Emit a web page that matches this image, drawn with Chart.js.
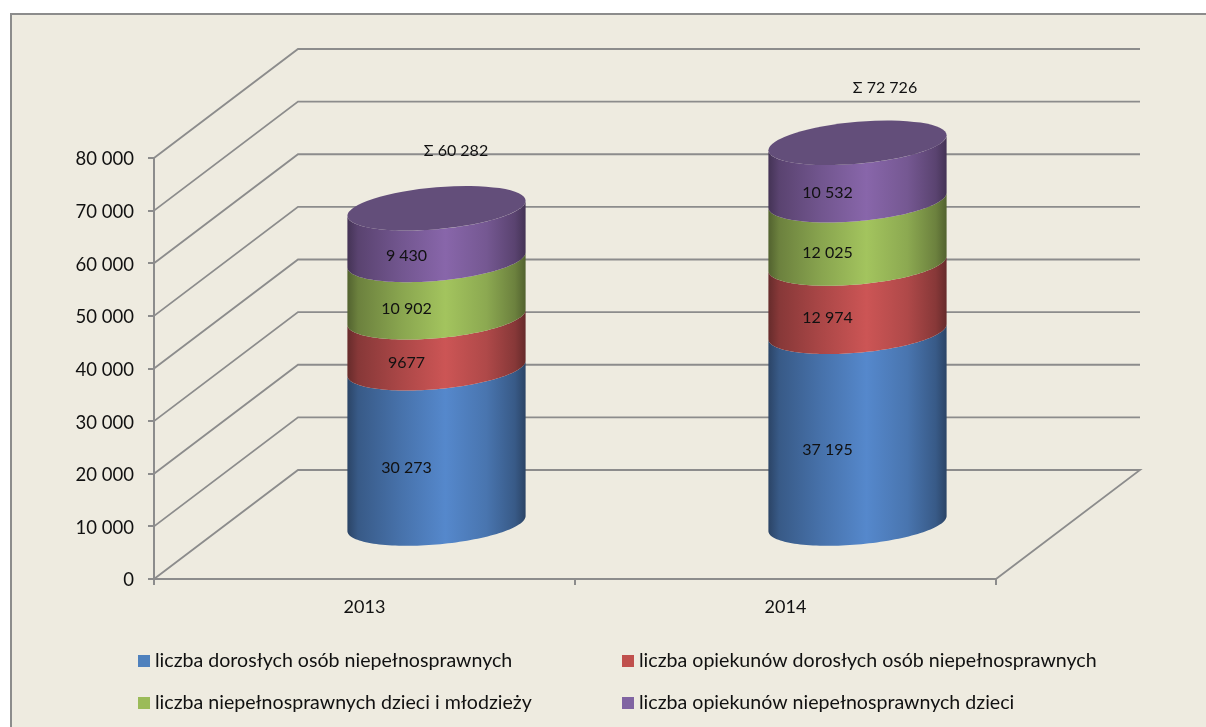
<!DOCTYPE html>
<html lang="pl">
<head>
<meta charset="utf-8">
<title>Wykres</title>
<script src="https://cdn.jsdelivr.net/npm/chart.js@4/dist/chart.umd.min.js"></script>
<style>
html,body{margin:0;padding:0;background:#fff;}
canvas{display:block;}
</style>
</head>
<body>
<canvas id="c" width="1206" height="727"></canvas>
<script>
const categories = ['2013', '2014'];
const adults = [30273, 37195];
const adultCarers = [9677, 12974];
const children = [10902, 12025];
const childCarers = [9430, 10532];
const adultsText = ['30 273', '37 195'];
const adultCarersText = ['9677', '12 974'];
const childrenText = ['10 902', '12 025'];
const childCarersText = ['9 430', '10 532'];
const totalsText = ['Σ 60 282', 'Σ 72 726'];
const yTicksMax = 80000;
const yStep = 10000;

const BG = '#EEEBE0', LINE = '#8C8C8C', INK = '#111111';
const FONT = 'Lato, sans-serif';
const DEPTH_X = 144, DEPTH_Y = 109;
const SLOPE = -15 / 178, MINOR = 21;
const SEAM_DROP = 3;
const LABEL_DX = -30, LABEL_DY = 23.5;
const TOTAL_OFF = [[19.5, -56.5], [27.5, -53.5]];
const LEGEND = [[138, 661], [622, 661], [138, 703], [622, 703]];

function shade(rgb, f) {
  return 'rgb(' + rgb.map(v => Math.round(v * f)).join(',') + ')';
}

function sidePath(ctx, cx, R, yTop, yBase) {
  const N = 72;
  ctx.beginPath();
  for (let i = 0; i <= N; i++) {
    const t = Math.PI - Math.PI * i / N;
    const dx = R * Math.cos(t);
    const px = cx + dx, py = yTop + SLOPE * dx + MINOR * Math.sin(t);
    if (i === 0) ctx.moveTo(px, py); else ctx.lineTo(px, py);
  }
  for (let i = 0; i <= N; i++) {
    const t = Math.PI * i / N;
    const dx = R * Math.cos(t);
    ctx.lineTo(cx + dx, yBase + SLOPE * dx + MINOR * Math.sin(t));
  }
  ctx.closePath();
}

const scene = {
  id: 'scene',
  beforeDraw(chart) {
    const { ctx, width, height } = chart;
    ctx.save();
    ctx.fillStyle = BG;
    ctx.fillRect(11, 14, width, height);
    ctx.strokeStyle = LINE;
    ctx.lineWidth = 2;
    ctx.beginPath();
    ctx.moveTo(11, height + 5);
    ctx.lineTo(11, 14);
    ctx.lineTo(width + 5, 14);
    ctx.stroke();
    ctx.restore();
  },
  beforeDatasetsDraw(chart) {
    const { ctx, scales: { y }, chartArea: a } = chart;
    ctx.save();
    ctx.strokeStyle = LINE;
    ctx.lineWidth = 1.8;
    y.ticks.forEach(tk => {
      const py = y.getPixelForValue(tk.value);
      ctx.beginPath();
      ctx.moveTo(a.left, py);
      ctx.lineTo(a.left + DEPTH_X, py - DEPTH_Y);
      ctx.lineTo(a.right + DEPTH_X, py - DEPTH_Y);
      if (tk.value === 0) ctx.lineTo(a.right, py);
      ctx.stroke();
    });
    ctx.restore();
  },
  beforeDatasetDraw() { return false; },
  afterDatasetsDraw(chart) {
    const { ctx } = chart;
    const sets = chart.data.datasets;
    ctx.save();
    categories.forEach((_, i) => {
      let topY = 0, cx = 0, R = 0;
      sets.forEach((ds, d) => {
        const bar = chart.getDatasetMeta(d).data[i];
        const p = bar.getProps(['x', 'y', 'base', 'width'], true);
        cx = p.x + DEPTH_X / 2; R = p.width / 2;
        const yT = p.y - DEPTH_Y / 2 + (d < sets.length - 1 ? SEAM_DROP : 1);
        const yB = p.base - DEPTH_Y / 2 + (d > 0 ? SEAM_DROP : 0);
        topY = yT;
        const g = ctx.createLinearGradient(cx - R, 0, cx + R, 0);
        [[0, .5], [.06, .66], [.3, .84], [.55, 1], [.78, .86], [.94, .66], [1, .5]]
          .forEach(s => g.addColorStop(s[0], shade(ds.sideRgb, s[1])));
        sidePath(ctx, cx, R, yT, yB);
        ctx.fillStyle = g;
        ctx.fill();
      });
      ctx.fillStyle = '#634E7A';
      ctx.save();
      ctx.transform(1, SLOPE, 0, 1, cx, topY);
      ctx.beginPath();
      ctx.ellipse(0, 0, R, MINOR, 0, 0, Math.PI * 2);
      ctx.fill();
      ctx.restore();
    });
    ctx.fillStyle = INK;
    ctx.textAlign = 'center';
    ctx.textBaseline = 'middle';
    ctx.font = '16px ' + FONT;
    categories.forEach((_, i) => {
      sets.forEach((ds, d) => {
        const p = chart.getDatasetMeta(d).data[i].getProps(['x', 'y', 'base'], true);
        const mid = (p.y + p.base) / 2 - DEPTH_Y / 2;
        ctx.fillText(ds.valueText[i], p.x + DEPTH_X / 2 + LABEL_DX, mid + LABEL_DY);
      });
      const top = chart.getDatasetMeta(sets.length - 1).data[i].getProps(['x', 'y'], true);
      ctx.fillText(totalsText[i], top.x + DEPTH_X / 2 + TOTAL_OFF[i][0], top.y - DEPTH_Y / 2 + TOTAL_OFF[i][1]);
    });
    ctx.textAlign = 'left';
    ctx.font = '19.6px ' + FONT;
    sets.forEach((ds, d) => {
      const [lx, ly] = LEGEND[d];
      ctx.fillStyle = ds.backgroundColor;
      ctx.fillRect(lx, ly - 6, 12, 12);
      ctx.fillStyle = INK;
      ctx.fillText(ds.label, lx + 17, ly);
    });
    ctx.restore();
  }
};

new Chart(document.getElementById('c'), {
  type: 'bar',
  data: {
    labels: categories,
    datasets: [
      { label: 'liczba dorosłych osób niepełnosprawnych', data: adults, valueText: adultsText, backgroundColor: '#4F81BD', sideRgb: [85, 136, 204] },
      { label: 'liczba opiekunów dorosłych osób niepełnosprawnych', data: adultCarers, valueText: adultCarersText, backgroundColor: '#C0504D', sideRgb: [204, 85, 85] },
      { label: 'liczba niepełnosprawnych dzieci i młodzieży', data: children, valueText: childrenText, backgroundColor: '#9BBB59', sideRgb: [163, 196, 94] },
      { label: 'liczba opiekunów niepełnosprawnych dzieci', data: childCarers, valueText: childCarersText, backgroundColor: '#8064A2', sideRgb: [136, 102, 170] }
    ]
  },
  options: {
    responsive: false,
    animation: false,
    layout: { padding: { left: 0, top: 158, right: 210, bottom: 0 } },
    datasets: { bar: { barPercentage: 0.4233, categoryPercentage: 1 } },
    plugins: { legend: { display: false }, tooltip: { enabled: false }, title: { display: false } },
    scales: {
      x: {
        stacked: true,
        offset: true,
        grid: { offset: true, drawOnChartArea: false, color: LINE, tickLength: 6, lineWidth: 2 },
        border: { color: LINE, width: 2 },
        ticks: { color: INK, font: { family: FONT, size: 18 }, padding: 11 },
        afterFit(s) { s.height = 148; }
      },
      y: {
        stacked: true,
        min: 0,
        max: yTicksMax,
        grid: { drawOnChartArea: false, color: LINE, tickLength: 6, lineWidth: 2 },
        border: { color: LINE, width: 2 },
        ticks: {
          stepSize: yStep,
          color: INK,
          padding: 14,
          labelOffset: 1.5,
          font: { family: FONT, size: 18.5 },
          callback: v => String(v).replace(/\B(?=(\d{3})+$)/g, ' ')
        },
        afterFit(s) { s.width = 154; }
      }
    }
  },
  plugins: [scene]
});
</script>
</body>
</html>
